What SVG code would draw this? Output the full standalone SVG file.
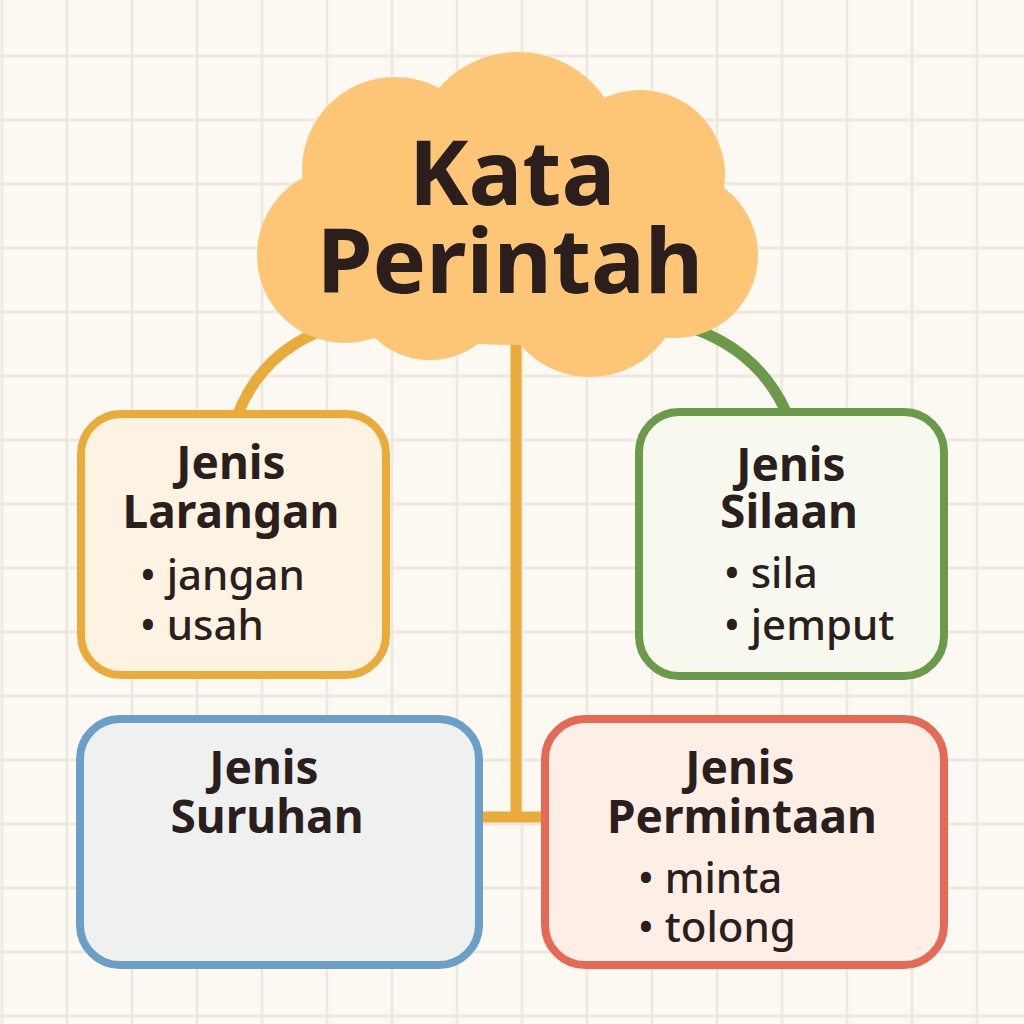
<svg xmlns="http://www.w3.org/2000/svg" width="1024" height="1024" viewBox="0 0 1024 1024">
<style>
.t{font-family:"Noto Sans","DejaVu Sans",sans-serif;fill:#2a1f1c;text-anchor:middle;font-weight:700}
.h{font-size:46px}
.b{font-family:"Noto Sans","DejaVu Sans",sans-serif;fill:#2a1f1c;font-size:42px;font-weight:500}
.box{stroke-width:8}
.con{fill:none;stroke-width:11;stroke-linecap:butt}
</style>
<rect width="1024" height="1024" fill="#fcf9f2"/>
<path fill="none" stroke="#ece8e0" stroke-width="2.5" d="M2 0V1024M67 0V1024M132 0V1024M197 0V1024M262 0V1024M327 0V1024M392 0V1024M457 0V1024M522 0V1024M587 0V1024M652 0V1024M717 0V1024M782 0V1024M847 0V1024M912 0V1024M977 0V1024M0 56H1024M0 120H1024M0 184H1024M0 248H1024M0 312H1024M0 376H1024M0 440H1024M0 504H1024M0 568H1024M0 632H1024M0 696H1024M0 760H1024M0 824H1024M0 888H1024M0 952H1024M0 1016H1024"/>
<g id="connectors">
<path class="con" stroke="#e9ac3a" d="M238 414 Q262 352 328 328"/>
<path class="con" stroke="#6a9a4a" d="M692 328 Q760 352 787 414"/>
<path class="con" stroke="#e9ac3a" d="M516 340 V817 M479 817 H545"/>
</g>
<g id="cloud">
<g fill="#fdc677">
<ellipse cx="510" cy="235" rx="215" ry="110"/>
<circle cx="518" cy="157" r="105"/>
<circle cx="395" cy="170" r="93"/>
<circle cx="640" cy="175" r="85"/>
<circle cx="345" cy="255" r="88"/>
<circle cx="675" cy="255" r="83"/>
<circle cx="430" cy="280" r="80"/>
<circle cx="590" cy="285" r="92"/>
</g>
<text class="t" x="512" y="205" font-size="90">Kata</text>
<text class="t" x="510" y="293" font-size="90">Perintah</text>
</g>
<g id="larangan">
<rect class="box" x="81" y="414" width="305" height="261" rx="40" fill="#fdf3e3" stroke="#e9ac3a"/>
<text class="t h" x="231" y="479">Jenis</text>
<text class="t h" x="231" y="528">Larangan</text>
<text class="b" x="140" y="590">• jangan</text>
<text class="b" x="140" y="640">• usah</text>
</g>
<g id="silaan">
<rect class="box" x="639" y="412" width="305" height="264" rx="40" fill="#f7f8ee" stroke="#6a9a4a"/>
<text class="t h" x="791" y="481">Jenis</text>
<text class="t h" x="789" y="528">Silaan</text>
<text class="b" x="724" y="588">• sila</text>
<text class="b" x="724" y="640">• jemput</text>
</g>
<g id="suruhan">
<rect class="box" x="80" y="719" width="399" height="246" rx="40" fill="#eff1f0" stroke="#6b9fc8"/>
<text class="t h" x="264" y="784">Jenis</text>
<text class="t h" x="267" y="833">Suruhan</text>
</g>
<g id="permintaan">
<rect class="box" x="545" y="719" width="399" height="246" rx="40" fill="#fdeee6" stroke="#e56a55"/>
<text class="t h" x="740" y="784">Jenis</text>
<text class="t h" x="742" y="833">Permintaan</text>
<text class="b" x="638" y="893">• minta</text>
<text class="b" x="638" y="942">• tolong</text>
</g>
</svg>
